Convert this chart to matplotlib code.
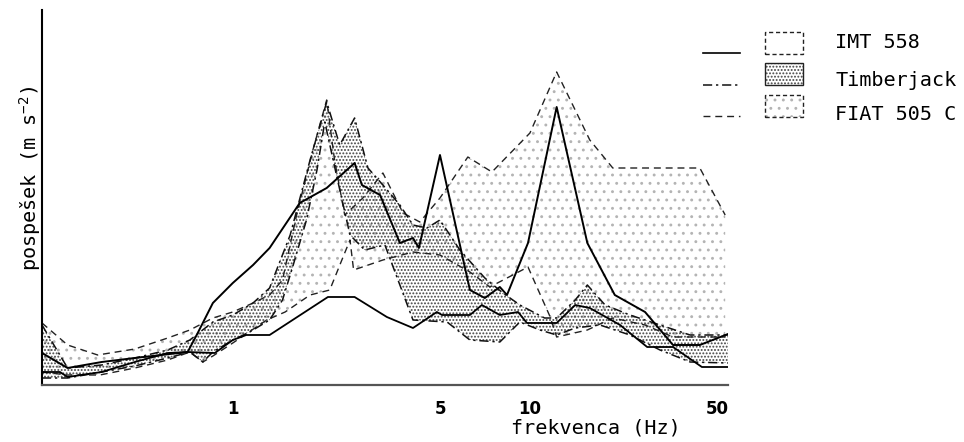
import matplotlib
matplotlib.use('Agg')
import matplotlib.pyplot as plt
from matplotlib.patches import Rectangle
from matplotlib.lines import Line2D
from matplotlib.ticker import NullLocator

# ---------------- data ----------------
# IMT 558 (solid lines, no fill)
imt_hi_f = [0.228, 0.278, 0.362, 0.468, 0.705, 0.762, 0.857, 1.0, 1.17, 1.33, 1.68, 2.07, 2.57, 2.72,
            3.13, 3.65, 4.04, 4.23, 4.98, 6.28, 7.05, 7.92, 8.37, 9.85, 12.3, 15.6, 19.3, 24.4, 30.3,
            37.3, 46.4]
imt_hi = [0.32, 0.17, 0.23, 0.27, 0.33, 0.52, 0.82, 1.02, 1.20, 1.37, 1.82, 1.97, 2.22, 2.00,
          1.90, 1.42, 1.47, 1.37, 2.30, 0.95, 0.87, 0.98, 0.90, 1.42, 2.78, 1.42, 0.90, 0.73, 0.40,
          0.40, 0.51]
imt_lo_f = [0.228, 0.262, 0.278, 0.362, 0.468, 0.604, 0.705, 0.870, 1.0, 1.11, 1.33, 2.09, 2.57, 3.30,
            4.04, 4.86, 5.06, 6.28, 6.89, 7.92, 9.12, 9.77, 12.3, 14.2, 15.9, 20.1, 24.8, 30.3, 37.9,
            46.4]
imt_lo = [0.13, 0.13, 0.08, 0.13, 0.23, 0.32, 0.33, 0.32, 0.45, 0.50, 0.50, 0.88, 0.88, 0.68,
          0.57, 0.73, 0.70, 0.70, 0.80, 0.70, 0.73, 0.62, 0.62, 0.80, 0.77, 0.60, 0.38, 0.38, 0.18,
          0.18]

# Timberjack (dash-dot lines, dense dotted fill)
tj_hi_f = [0.228, 0.278, 0.362, 0.468, 0.604, 0.717, 0.857, 1.0, 1.17, 1.33, 1.56, 1.82, 2.07, 2.29,
           2.57, 2.85, 3.20, 3.65, 4.04, 4.50, 4.98, 5.81, 7.05, 8.11, 9.25, 11.2, 12.3, 14.2, 15.6,
           17.9, 21.7, 27.4, 34.6, 46.4]
tj_hi = [0.60, 0.17, 0.20, 0.27, 0.35, 0.45, 0.63, 0.70, 0.82, 0.97, 1.50, 2.25, 2.83, 2.40,
         2.67, 2.17, 2.00, 1.80, 1.60, 1.57, 1.65, 1.35, 1.07, 0.92, 0.80, 0.67, 0.67, 0.85, 1.00,
         0.80, 0.70, 0.60, 0.50, 0.50]
tj_lo_f = [0.228, 0.278, 0.362, 0.468, 0.604, 0.717, 0.793, 0.857, 1.0, 1.14, 1.33, 1.47, 1.59, 1.77,
           1.92, 2.04, 2.24, 2.48, 2.78, 3.25, 3.65, 4.04, 5.26, 6.28, 7.92, 9.25, 10.8, 12.3, 14.2,
           17.2, 21.7, 27.4, 34.6, 46.4]
tj_lo = [0.07, 0.07, 0.13, 0.19, 0.27, 0.33, 0.23, 0.33, 0.45, 0.53, 0.65, 0.85, 1.18, 1.65,
         2.15, 2.63, 2.08, 1.50, 1.35, 1.40, 1.00, 0.65, 0.63, 0.45, 0.43, 0.63, 0.55, 0.50, 0.57,
         0.60, 0.50, 0.35, 0.23, 0.22]

# FIAT 505 C (dashed lines, sparse dotted fill)
fiat_hi_f = [0.228, 0.278, 0.351, 0.468, 0.604, 0.717, 0.857, 1.0, 1.17, 1.33, 1.47, 1.64, 1.86, 2.07,
             2.20, 2.38, 2.74, 3.20, 3.74, 4.26, 4.98, 6.18, 7.45, 10.0, 12.3, 15.9, 19.0, 37.3, 45.4]
fiat_hi = [0.62, 0.40, 0.30, 0.36, 0.47, 0.55, 0.67, 0.73, 0.82, 0.90, 1.05, 1.70, 2.35, 2.85,
           2.25, 1.70, 1.87, 2.12, 1.72, 1.63, 1.87, 2.28, 2.13, 2.52, 3.13, 2.45, 2.17, 2.17, 1.70]
fiat_lo_f = [0.228, 0.278, 0.357, 0.468, 0.604, 0.717, 0.793, 0.857, 1.0, 1.30, 1.50, 1.82, 2.12, 2.35,
             2.48, 2.55, 3.20, 4.04, 4.98, 6.28, 7.33, 9.85, 11.7, 12.3, 15.6, 19.0, 24.4, 30.3, 45.4]
fiat_lo = [0.13, 0.10, 0.10, 0.17, 0.25, 0.33, 0.23, 0.29, 0.42, 0.65, 0.73, 0.90, 0.95, 1.28,
           1.45, 1.15, 1.25, 1.33, 1.30, 1.13, 0.98, 1.18, 0.68, 0.48, 0.55, 0.67, 0.60, 0.48, 0.48]

tick_vals = [1, 5, 10]
tick_labels = ['1', '5', '10']
legend_names = ['IMT 558', 'Timberjack', 'FIAT 505 C']

# ---------------- style ----------------
plt.rcParams['font.family'] = ['DejaVu Sans Mono', 'DejaVu Sans']
plt.rcParams['mathtext.fontset'] = 'custom'
plt.rcParams['mathtext.rm'] = 'DejaVu Sans Mono'
plt.rcParams['mathtext.it'] = 'DejaVu Sans Mono'
plt.rcParams['hatch.linewidth'] = 0.9

W, H = 964, 442
fig = plt.figure(figsize=(W / 100, H / 100), dpi=100)
ax = fig.add_axes([42 / W, 1 - 385 / H, (728 - 42) / W, (385 - 10) / H])
ax.set_xscale('log')
ax.set_xlim(0.228, 46.4)
ax.set_ylim(0, 3.75)

DENSE = '.....'
SPARSE = '..'
DENSE_C = '#444444'
SPARSE_C = '#b4b4b4'
TJ_DASH = (0, (6, 2.5, 1.5, 2.5))
FIAT_DASH = (0, (5, 3.5))


def band(f1, y1, f2, y2, hatch, color):
    xs = list(f1) + list(f2)[::-1]
    ys = list(y1) + list(y2)[::-1]
    ax.fill(xs, ys, facecolor='none', edgecolor=color, hatch=hatch, linewidth=0)


band(fiat_hi_f, fiat_hi, fiat_lo_f, fiat_lo, SPARSE, SPARSE_C)
band(tj_hi_f, tj_hi, tj_lo_f, tj_lo, DENSE, DENSE_C)

ax.plot(fiat_hi_f, fiat_hi, color='#222222', lw=1.0, linestyle=FIAT_DASH)
ax.plot(fiat_lo_f, fiat_lo, color='#222222', lw=1.0, linestyle=FIAT_DASH)
ax.plot(tj_hi_f, tj_hi, color='#111111', lw=1.1, linestyle=TJ_DASH)
ax.plot(tj_lo_f, tj_lo, color='#111111', lw=1.1, linestyle=TJ_DASH)
ax.plot(imt_hi_f, imt_hi, color='black', lw=1.4)
ax.plot(imt_lo_f, imt_lo, color='black', lw=1.3)

for s in ['top', 'right']:
    ax.spines[s].set_visible(False)
ax.spines['left'].set_linewidth(1.5)
ax.spines['bottom'].set_linewidth(1.6)
ax.spines['bottom'].set_color('#555555')
ax.set_yticks([])
ax.xaxis.set_minor_locator(NullLocator())
ax.set_xticks(tick_vals)
ax.set_xticklabels(tick_labels, fontfamily='DejaVu Sans', fontweight='bold', fontsize=12)
ax.tick_params(axis='x', length=0, pad=11)

fig.text(729 / W, 1 - 409 / H, '50', ha='right', va='center', fontfamily='DejaVu Sans',
         fontweight='bold', fontsize=12)
fig.text(596 / W, 1 - 428 / H, 'frekvenca (Hz)', ha='center', va='center', fontsize=14.5)
fig.text(30 / W, 1 - 178 / H, 'pospešek (m s$^{-2}$)', ha='center', va='center', rotation=90,
         fontsize=14.5)


# ---------------- legend (drawn by hand) ----------------
def fx(x):
    return x / W


def fy(y):
    return 1 - y / H


styles = [dict(color='black', lw=1.2, linestyle='-'),
          dict(color='#111111', lw=1.1, linestyle=TJ_DASH),
          dict(color='#222222', lw=1.0, linestyle=FIAT_DASH)]
line_y = [53, 85, 116]
for st, yy in zip(styles, line_y):
    fig.add_artist(Line2D([fx(703), fx(740)], [fy(yy), fy(yy)], transform=fig.transFigure, **st))

box_top = [32, 63, 95]
box_hatch = [None, DENSE, SPARSE]
box_hcol = [None, DENSE_C, SPARSE_C]
box_ls = [(0, (3, 2)), '-', (0, (3, 2))]
for top, hch, hc, ls in zip(box_top, box_hatch, box_hcol, box_ls):
    if hch:
        fig.add_artist(Rectangle((fx(765), fy(top + 22)), 38 / W, 22 / H, transform=fig.transFigure,
                                 facecolor='none', edgecolor=hc, hatch=hch, linewidth=0))
    fig.add_artist(Rectangle((fx(765), fy(top + 22)), 38 / W, 22 / H, transform=fig.transFigure,
                             facecolor='none', edgecolor='#222222', linewidth=1.0, linestyle=ls))

text_y = [43, 80, 115]
for name, yy in zip(legend_names, text_y):
    fig.text(fx(835), fy(yy), name, ha='left', va='center', fontsize=14.5)

fig.savefig('out.png', dpi=100)
